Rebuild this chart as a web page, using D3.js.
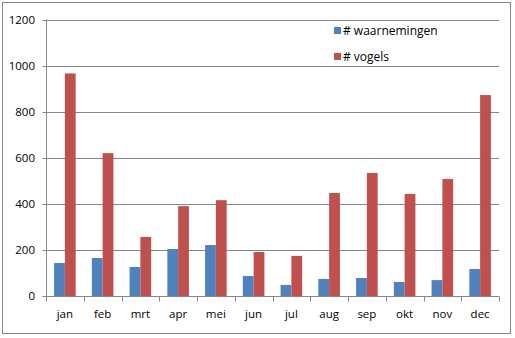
<!DOCTYPE html>
<html>
<head>
<meta charset="utf-8">
<script src="https://cdn.jsdelivr.net/npm/d3@7"></script>
<style>
  html, body { margin: 0; padding: 0; background: #fff; }
  svg { display: block; }
  text { font-family: "Open Sans", "Noto Sans", sans-serif; }
</style>
</head>
<body>
<svg id="chart" width="515" height="338"></svg>
<script>
const months = ["jan","feb","mrt","apr","mei","jun","jul","aug","sep","okt","nov","dec"];
const waarnemingen = [143,165,126,204,221,87,48,74,78,61,69,117];
const vogels = [966,620,256,390,416,191,174,447,534,443,508,872];
const seriesNames = ["# waarnemingen", "# vogels"];
const seriesColors = ["#4F81BD", "#C0504D"];
const yTicks = [0,200,400,600,800,1000,1200];

const svg = d3.select("#chart");

// outer border
svg.append("rect").attr("x", 2.5).attr("y", 2.5).attr("width", 508).attr("height", 331)
  .attr("fill", "#fff").attr("stroke", "#868686").attr("stroke-width", 1);

const x = d3.scaleBand().domain(months).range([46, 499]).paddingInner(0).paddingOuter(0);
const y = d3.scaleLinear().domain([0, 1200]).range([296, 19.5]);
const x1 = d3.scaleBand().domain([0,1]).range([0, x.bandwidth()]).paddingInner(0).paddingOuter(0.75);

// gridlines
svg.append("g").selectAll("line").data(yTicks.filter(d => d > 0)).join("line")
  .attr("x1", 46).attr("x2", 499)
  .attr("y1", d => Math.round(y(d)) + 0.5).attr("y2", d => Math.round(y(d)) + 0.5)
  .attr("stroke", "#868686").attr("stroke-width", 1);

// bars
const data = months.map((m, i) => ({m, v: [waarnemingen[i], vogels[i]]}));
const g = svg.append("g");
data.forEach(d => {
  d.v.forEach((val, s) => {
    g.append("rect")
      .attr("x", x(d.m) + x1(s))
      .attr("width", x1.bandwidth())
      .attr("y", y(val))
      .attr("height", y(0) - y(val))
      .attr("fill", seriesColors[s]);
  });
});

// y axis
const yAxis = d3.axisLeft(y).tickValues(yTicks).tickSize(4).tickPadding(7.5).tickFormat(d3.format("d"));
const ya = svg.append("g").attr("transform", "translate(46.5,0)").call(yAxis);
ya.selectAll("path").attr("stroke", "#868686").attr("d", "M0," + y(1200) + "V" + (y(0)));
ya.selectAll(".tick line").attr("stroke", "#868686");
ya.selectAll(".tick").attr("transform", d => "translate(0," + (Math.round(y(d)) + 0.5) + ")");
ya.selectAll("text").attr("font-size", 11.5).attr("fill", "#000").attr("font-family", "Open Sans, sans-serif");

// x axis
const xa = svg.append("g").attr("transform", "translate(0," + (Math.round(y(0)) + 0.5) + ")");
xa.append("line").attr("x1", 46).attr("x2", 499).attr("stroke", "#868686");
const bounds = months.map(m => x(m)).concat([x.range()[1]]);
xa.selectAll(".tk").data(bounds).join("line").attr("class", "tk")
  .attr("x1", d => Math.round(d) + 0.5).attr("x2", d => Math.round(d) + 0.5)
  .attr("y1", 0).attr("y2", 5).attr("stroke", "#868686");
xa.selectAll(".lbl").data(months).join("text").attr("class", "lbl")
  .attr("x", d => x(d) + x.bandwidth() / 2).attr("y", 21)
  .attr("text-anchor", "middle").attr("font-size", 11.5).attr("fill", "#000")
  .text(d => d);

// legend
const lg = svg.append("g");
seriesNames.forEach((name, i) => {
  const ly = 31 + i * 26;
  lg.append("rect").attr("x", 334).attr("y", ly - 4).attr("width", 7).attr("height", 7).attr("fill", seriesColors[i]);
  lg.append("text").attr("x", 343).attr("y", ly + 4).attr("font-size", 12).attr("fill", "#000").text(name);
});
</script>
</body>
</html>
